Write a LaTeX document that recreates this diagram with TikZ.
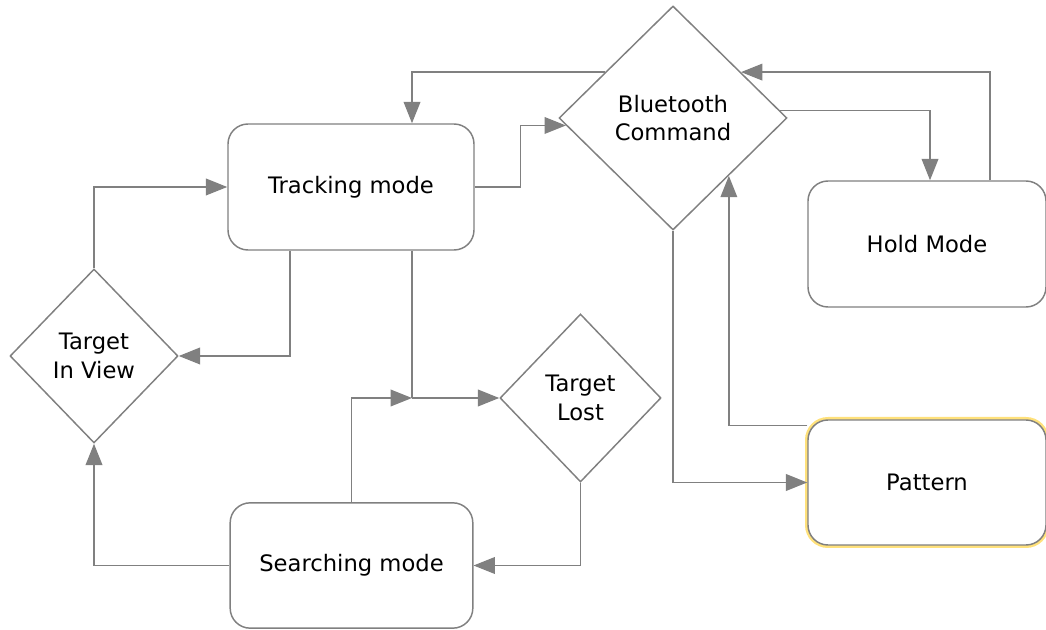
\documentclass[tikz,border=0pt]{standalone}
\usepackage{fontspec}
\setmainfont{DejaVu Sans}
\usepackage{tikz}
\usetikzlibrary{shapes.geometric,arrows.meta,calc}

\definecolor{linegray}{RGB}{128,128,128}
\definecolor{glow}{RGB}{255,218,90}

\begin{document}
\begin{tikzpicture}[x=0.75pt, y=-0.75pt, >={Triangle[length=16pt,width=12.5pt]},
    every node/.style={font=\fontsize{17}{21.5}\selectfont, text=black},
    mode/.style={draw=linegray, line width=1.1pt, rounded corners=15pt, fill=white, align=center, inner sep=0pt},
    decision/.style={draw=linegray, line width=1.1pt, diamond, fill=white, align=center, inner sep=0pt},
    flow/.style={->, draw=linegray, line width=1.1pt}]

      \useasboundingbox (0,0) rectangle (1046,630);

      \node[mode, minimum width=184.5pt, minimum height=94.5pt] (track) at (351,187) {Tracking mode};
      \node[mode, minimum width=182pt, minimum height=94pt] (search) at (351.5,565.5) {Searching mode};
      \node[mode, minimum width=178.5pt, minimum height=94.5pt] (hold) at (927,244) {Hold Mode};
      \node[mode, minimum width=178.5pt, minimum height=93.75pt,
            preaction={draw=glow, line width=4.5pt, opacity=0.8}] (pattern) at (927,482.5) {Pattern};

      \node[decision, minimum width=171pt, minimum height=168pt] (bt) at (673,118) {Bluetooth\\Command};
      \node[decision, minimum width=126pt, minimum height=130.5pt] (tiv) at (94,356) {Target\\In View};
      \node[decision, minimum width=120.75pt, minimum height=126pt] (lost) at (580.5,398) {Target\\Lost};

      \coordinate (merge) at (412,398);

      % bluetooth loop
      \draw[flow] (track.east) -- ++(46,0) |- (bt.184);
      \draw[flow] (bt.146) -| ($(track.north)+(61,0)$);
      \draw[flow] (bt.4) -| ($(hold.north)+(3,0)$);
      \draw[flow] ($(hold.north)+(63,0)$) |- (bt.34);
      \draw[flow] (bt.south) |- (pattern.west);
      \draw[flow] ($(pattern.north west)+(0,6)$) -| (bt.314);

      % tracking / searching
      \draw[flow] ($(track.south)+(-61,0)$) |- (tiv.east);
      \draw[linegray, line width=1.1pt] ($(track.south)+(61,0)$) -- (merge);
      \draw[flow] (search.north) |- (merge);
      \draw[flow] (merge) -- (lost.west);
      \draw[flow] (lost.south) |- (search.east);
      \draw[flow] (search.west) -| (tiv.south);
      \draw[flow] (tiv.north) |- (track.west);
    \end{tikzpicture}
\end{document}
